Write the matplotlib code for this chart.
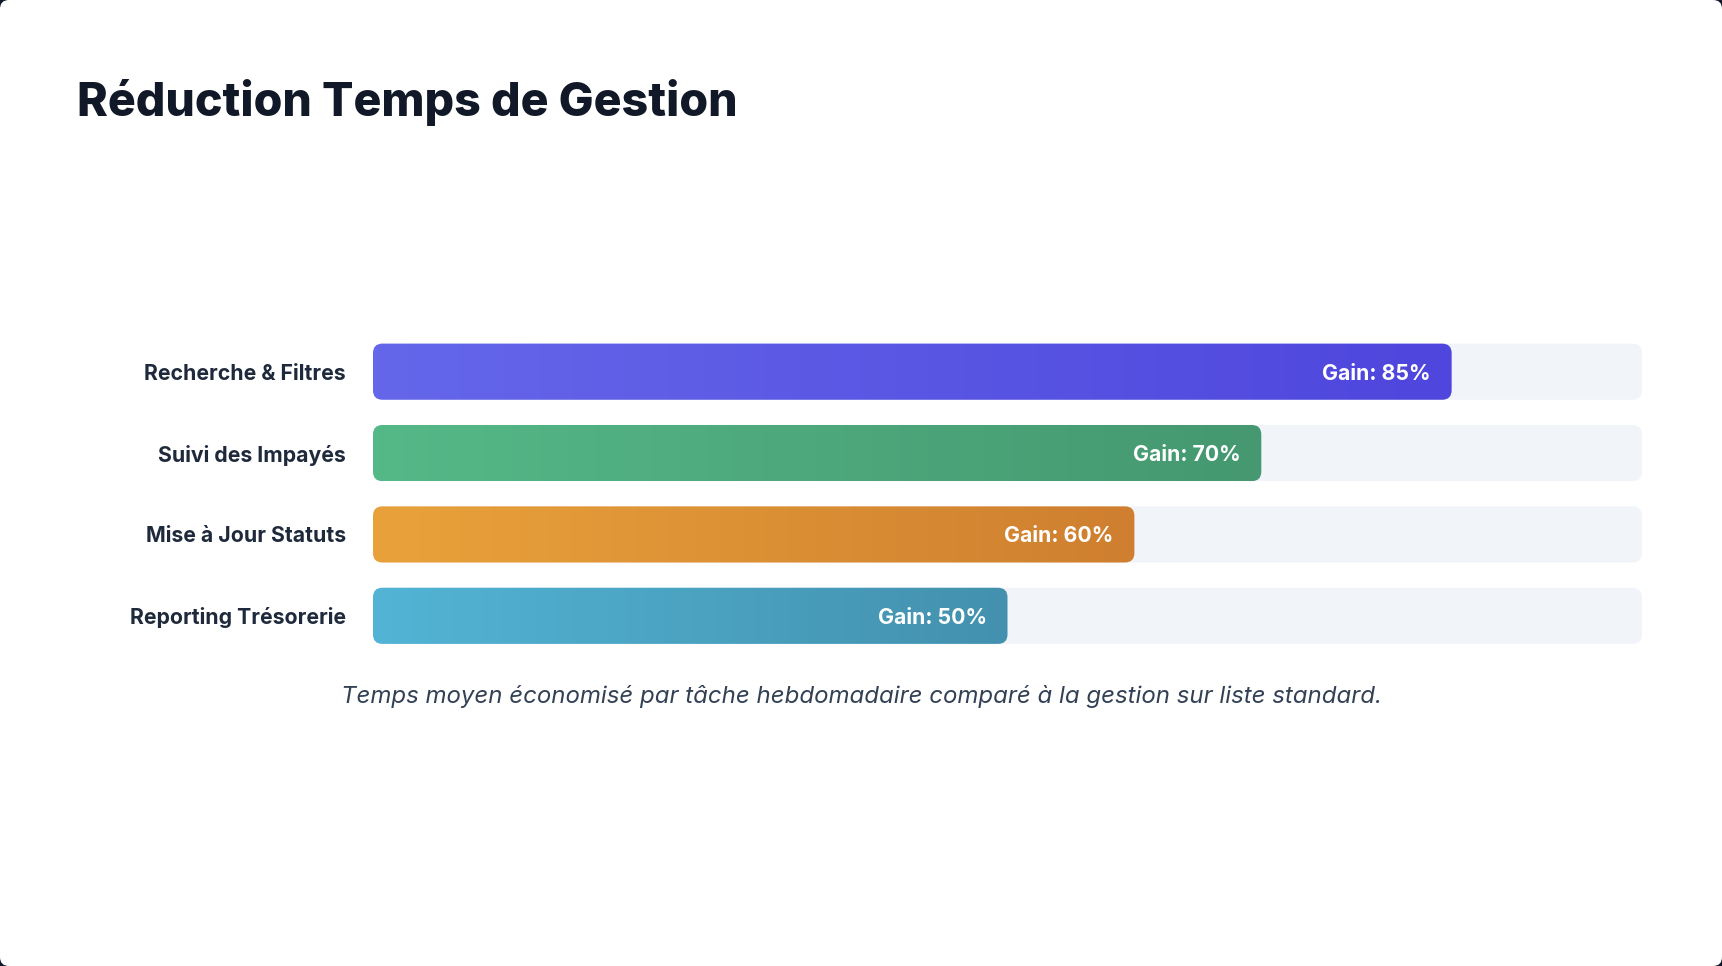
import matplotlib
matplotlib.use("Agg")
import matplotlib.pyplot as plt
import numpy as np
from matplotlib.patches import FancyBboxPatch
from matplotlib.colors import LinearSegmentedColormap

# Data
categories = ["Recherche & Filtres", "Suivi des Impayés", "Mise à Jour Statuts", "Reporting Trésorerie"]
gains = [85, 70, 60, 50]
left_colors = ["#6467ea", "#55b887", "#e9a23b", "#53b4d5"]
right_colors = ["#4f46dd", "#459870", "#cf7f2f", "#4391ae"]

title = "Réduction Temps de Gestion"
caption = "Temps moyen économisé par tâche hebdomadaire comparé à la gestion sur liste standard."

W, H = 1722, 966
fig = plt.figure(figsize=(W / 100, H / 100), dpi=100)
fig.patch.set_facecolor("#0f172a")

# white card with rounded corners
card = fig.add_axes([0, 0, 1, 1])
card.set_xlim(0, W)
card.set_ylim(H, 0)
card.axis("off")
card.add_patch(FancyBboxPatch((0, 0), W, H, boxstyle="round,pad=0,rounding_size=9",
                              facecolor="white", edgecolor="none"))

# bar area, in pixels
x0, x1 = 373, 1642
y_top, y_bot = 331, 656.5
ax = fig.add_axes([x0 / W, 1 - y_bot / H, (x1 - x0) / W, (y_bot - y_top) / H])
ax.set_xlim(0, 100)
ax.set_ylim(len(categories) - 0.5, -0.5)
ax.axis("off")

bar_h = 0.69
px_x = (x1 - x0) / 100.0
px_y = (y_bot - y_top) / len(categories)
radius = 9.5 / px_x
asp = px_x / px_y

for i, (cat, g) in enumerate(zip(categories, gains)):
    yb = i - bar_h / 2
    track = FancyBboxPatch((0, yb), 100, bar_h,
                           boxstyle="round,pad=0,rounding_size=%f" % radius,
                           mutation_aspect=asp, facecolor="#f1f5f9", edgecolor="none")
    ax.add_patch(track)

    bar = FancyBboxPatch((0, yb), g, bar_h,
                         boxstyle="round,pad=0,rounding_size=%f" % radius,
                         mutation_aspect=asp, facecolor="none", edgecolor="none")
    ax.add_patch(bar)
    cmap = LinearSegmentedColormap.from_list("g%d" % i, [left_colors[i], right_colors[i]])
    grad = np.linspace(0, 1, 256).reshape(1, -1)
    im = ax.imshow(grad, cmap=cmap, aspect="auto", extent=(0, g, yb + bar_h, yb),
                   interpolation="bilinear", zorder=2)
    im.set_clip_path(bar)

    ax.text(g - 21 / px_x, i, "Gain: %d%%" % g, ha="right", va="center_baseline",
            color="white", fontsize=15.3, fontweight="bold", family="Inter", zorder=3)
    ax.text(-27 / px_x, i, cat, ha="right", va="center_baseline",
            color="#1e293b", fontsize=15.3, fontweight="bold", family="Inter")

ax.set_xlim(0, 100)
ax.set_ylim(len(categories) - 0.5, -0.5)

fig.text(77 / W, 1 - 116 / H, title, ha="left", va="baseline", fontsize=33.5,
         fontweight="heavy", family="Inter", color="#111827")
fig.text(0.5, 1 - 703 / H, caption, ha="center", va="baseline", fontsize=17.3,
         style="italic", family="Inter", color="#334155")

fig.savefig("out.png", dpi=100, facecolor=fig.get_facecolor())
